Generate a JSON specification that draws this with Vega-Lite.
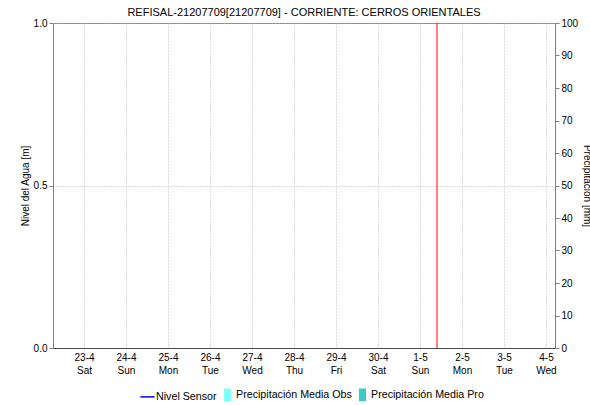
{
  "$schema": "https://vega.github.io/schema/vega-lite/v6.json",
  "width": 502,
  "height": 325,
  "autosize": {"type": "none"},
  "padding": {"left": 53, "top": 23, "right": 35, "bottom": 57},
  "title": {"text": "REFISAL-21207709[21207709] - CORRIENTE: CERROS ORIENTALES", "fontSize": 11, "fontWeight": "normal", "font": "Liberation Sans", "color": "#000000", "offset": 0},
  "config": {
    "view": {"stroke": "#808080"},
    "font": "Liberation Sans",
    "axis": {"labelFont": "Liberation Sans", "labelFontSize": 10, "labelColor": "#000000", "titleFont": "Liberation Sans", "titleFontSize": 10, "titleFontWeight": "normal", "titleColor": "#000000", "domainColor": "#808080", "tickColor": "#808080", "gridColor": "#b4b4b4", "gridDash": [1, 2]},
    "legend": {"labelFont": "Liberation Sans", "labelFontSize": 10.7, "labelColor": "#000000"}
  },
  "datasets": {
    "nivel": [],
    "precip": [
      {"fecha": "2022-04-23T00:00", "serie": "Precipitación Media Obs", "valor": 0},
      {"fecha": "2022-04-24T00:00", "serie": "Precipitación Media Obs", "valor": 0},
      {"fecha": "2022-04-25T00:00", "serie": "Precipitación Media Obs", "valor": 0},
      {"fecha": "2022-04-26T00:00", "serie": "Precipitación Media Obs", "valor": 0},
      {"fecha": "2022-04-27T00:00", "serie": "Precipitación Media Obs", "valor": 0},
      {"fecha": "2022-04-28T00:00", "serie": "Precipitación Media Obs", "valor": 0},
      {"fecha": "2022-04-29T00:00", "serie": "Precipitación Media Obs", "valor": 0},
      {"fecha": "2022-04-30T00:00", "serie": "Precipitación Media Obs", "valor": 0},
      {"fecha": "2022-05-01T00:00", "serie": "Precipitación Media Obs", "valor": 0},
      {"fecha": "2022-05-02T00:00", "serie": "Precipitación Media Pro", "valor": 0},
      {"fecha": "2022-05-03T00:00", "serie": "Precipitación Media Pro", "valor": 0},
      {"fecha": "2022-05-04T00:00", "serie": "Precipitación Media Pro", "valor": 0}
    ],
    "ahora": [{"fecha": "2022-05-01T09:43", "evento": "Ahora"}],
    "leyenda": [
      {"serie": "Nivel Sensor"},
      {"serie": "Precipitación Media Obs"},
      {"serie": "Precipitación Media Pro"}
    ]
  },
  "layer": [
    {
      "data": {"name": "nivel"},
      "mark": {"type": "line", "color": "#0000ff"},
      "encoding": {
        "x": {"field": "fecha", "type": "temporal",
          "scale": {"domain": ["2022-04-22T06:17", "2022-05-04T05:09"], "nice": false, "padding": 0},
          "axis": {"title": null, "tickCount": {"interval": "day", "step": 1}, "ticks": false, "grid": true, "domainColor": "#000000", "domainDash": [1, 1], "labelPadding": 4, "labelAlign": "center", "labelExpr": "[timeFormat(datum.value, '%-d-%-m'), timeFormat(datum.value, '%a')]", "labelLineHeight": 13}},
        "y": {"field": "nivel", "type": "quantitative",
          "scale": {"domain": [0, 1], "nice": false},
          "axis": {"title": "Nivel del Agua [m]", "values": [0, 0.5, 1], "format": ".1f", "grid": true, "tickSize": 4, "titlePadding": 3}}
      }
    },
    {
      "data": {"name": "precip"},
      "mark": {"type": "bar", "width": 20, "color": "#80ffff"},
      "encoding": {
        "x": {"field": "fecha", "type": "temporal"},
        "y": {"field": "valor", "type": "quantitative",
          "scale": {"domain": [0, 100], "nice": false},
          "axis": {"title": "Precipitación [mm]", "orient": "right", "values": [0, 10, 20, 30, 40, 50, 60, 70, 80, 90, 100], "format": "d", "grid": false, "tickSize": 4, "titlePadding": 4}}
      }
    },
    {
      "data": {"name": "ahora"},
      "mark": {"type": "rule", "color": "#ff0000", "strokeWidth": 1},
      "encoding": {"x": {"field": "fecha", "type": "temporal"}}
    },
    {
      "data": {"name": "leyenda"},
      "transform": [{"filter": "false"}],
      "mark": {"type": "point", "filled": true, "opacity": 1, "strokeWidth": 1.2},
      "encoding": {
        "color": {"field": "serie", "type": "nominal",
          "scale": {"domain": ["Nivel Sensor", "Precipitación Media Obs", "Precipitación Media Pro"], "range": ["#0000ff", "#80ffff", "#40c8c8"]},
          "legend": {"title": null, "orient": "none", "legendX": 88, "legendY": 365, "direction": "horizontal", "symbolSize": 130, "columnPadding": 4, "labelOffset": 2}},
        "shape": {"field": "serie", "type": "nominal",
          "scale": {"domain": ["Nivel Sensor", "Precipitación Media Obs", "Precipitación Media Pro"], "range": ["M-1.25,0H1.25", "M-0.5,-1H0.5V1H-0.5Z", "M-0.5,-1H0.5V1H-0.5Z"]},
          "legend": {"title": null, "orient": "none", "direction": "horizontal"}},
        "stroke": {"field": "serie", "type": "nominal",
          "scale": {"domain": ["Nivel Sensor", "Precipitación Media Obs", "Precipitación Media Pro"], "range": ["#0000ff", "#80ffff", "#40c8c8"]},
          "legend": {"title": null, "orient": "none", "direction": "horizontal"}}
      }
    }
  ],
  "resolve": {"scale": {"y": "independent"}}
}
